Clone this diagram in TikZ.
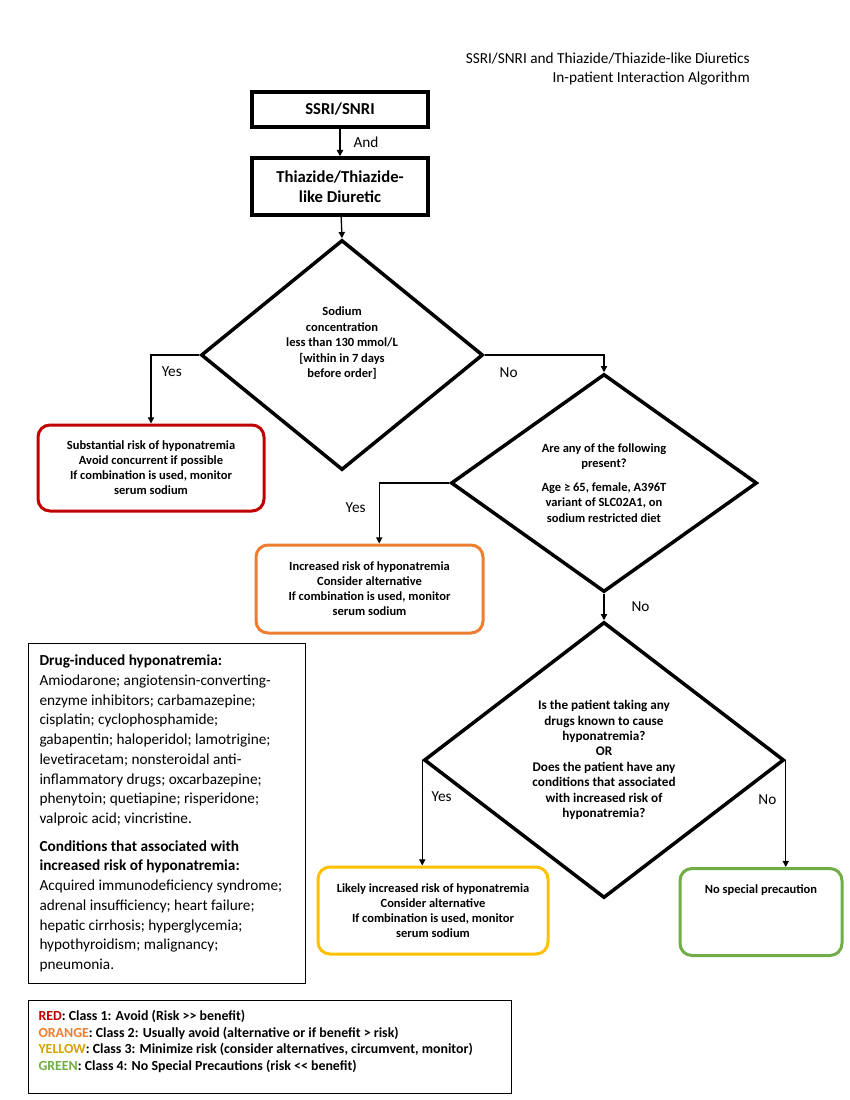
\documentclass[tikz,border=0pt]{standalone}
\usepackage{fontspec}
\setmainfont{Carlito}
\usetikzlibrary{shapes.geometric,arrows.meta}
\newlength{\px}\setlength{\px}{0.72pt}
\definecolor{riskred}{RGB}{192,0,0}
\definecolor{riskorange}{RGB}{237,125,49}
\definecolor{riskyellow}{RGB}{255,192,0}
\definecolor{legendyellow}{RGB}{214,162,0}
\definecolor{riskgreen}{RGB}{112,173,71}
\begin{document}
\begin{tikzpicture}[
        x=0.72pt, y=-0.72pt,
        drugbox/.style={draw, line width=3.5\px, minimum width=176\px, inner sep=0pt, align=center,
            font=\bfseries\fontsize{12}{14.4}\selectfont},
        question/.style={draw, diamond, line width=3.5\px, inner sep=0pt, align=center,
            font=\bfseries\fontsize{9}{11.2}\selectfont},
        outcome/.style={draw, rounded corners=12\px, line width=3\px, inner sep=0pt, align=center,
            font=\bfseries\fontsize{9}{10.8}\selectfont},
        arrow/.style={-{Triangle[length=4.5pt,width=4.5pt]}, line width=0.95pt},
        answer/.style={font=\fontsize{11}{13}\selectfont}
    ]
        \useasboundingbox (0,0) rectangle (850,1100);

        % Title
        \node[anchor=east, align=right, inner sep=0pt, font=\fontsize{11}{13}\selectfont] (title) at (750,69)
            {SSRI/SNRI and Thiazide/Thiazide-like Diuretics\\In-patient Interaction Algorithm};

        % Drugs in combination
        \node[drugbox, minimum height=35\px] (ssri) at (340,109.5) {SSRI/SNRI};
        \node[drugbox, minimum height=57\px] (thia) at (340,186.5) {Thiazide/Thiazide-\\like Diuretic};

        % Decisions
        \node[question, minimum width=282\px, minimum height=230\px] (sodium) at (342,355)
            {\fontsize{9}{12}\selectfont Sodium\\concentration\\less than 130 mmol/L\\{[}within in 7 days\\before order{]}\\[10\px]};
        \node[question, minimum width=306\px, minimum height=218\px] (risk) at (604,483)
            {Are any of the following\\present?\\[8\px]Age ≥ 65, female, A396T\\variant of SLC02A1, on\\sodium restricted diet};
        \node[question, minimum width=360\px, minimum height=276\px, font=\bfseries\fontsize{9.5}{11.1}\selectfont] (drugs) at (604,760)
            {Is the patient taking any\\drugs known to cause\\hyponatremia?\\OR\\Does the patient have any\\conditions that associated\\with increased risk of\\hyponatremia?};

        % Outcomes
        \node[outcome, draw=riskred, minimum width=226\px, minimum height=86\px] (red) at (151,468)
            {Substantial risk of hyponatremia\\Avoid concurrent if possible\\If combination is used, monitor\\serum sodium};
        \node[outcome, draw=riskorange, minimum width=227\px, minimum height=88\px] (orange) at (369.5,589)
            {Increased risk of hyponatremia\\Consider alternative\\If combination is used, monitor\\serum sodium};
        \node[outcome, draw=riskyellow, minimum width=230\px, minimum height=87\px] (yellow) at (433,910.5)
            {Likely increased risk of hyponatremia\\Consider alternative\\If combination is used, monitor\\serum sodium};
        \node[outcome, draw=riskgreen, anchor=north, minimum width=162\px,
            text height=25\px, text depth=62\px] (green) at (761,867) {No special precaution};

        % Connectors
        \draw[arrow] (ssri) -- node[answer, right=6pt] {And} (thia);
        \draw[arrow] (thia) -- (sodium.north);
        \draw[arrow] (sodium.west) -| node[answer, pos=0.62, right=4pt] {Yes} (red.north);
        \draw[arrow] (sodium.east) -| node[answer, pos=0.1, below=5pt] {No} (risk.north);
        \draw[arrow] (risk.west) -| node[answer, pos=0.7, left=6pt] {Yes} ([xshift=7pt]orange.north);
        \draw[arrow] (risk.south) -- node[answer, right=16pt] {No} (drugs.north);
        \draw[arrow] (drugs.west) -- node[answer, pos=0.35, right=3pt] {Yes} (drugs.west |- yellow.north);
        \draw[arrow] (drugs.east) -- node[answer, pos=0.37, left=3pt] {No} (drugs.east |- green.north);

        % Lists of drugs and conditions
        \node[draw, line width=1\px, anchor=north west, minimum width=277\px, minimum height=340\px,
            inner xsep=11\px, text width=255\px, align=flush left, font=\fontsize{11}{14.2}\selectfont] (lists) at (28,643)
            {\textbf{Drug-induced hyponatremia:}\\
            Amiodarone; angiotensin-converting-\\
            enzyme inhibitors; carbamazepine;\\
            cisplatin; cyclophosphamide;\\
            gabapentin; haloperidol; lamotrigine;\\
            levetiracetam; nonsteroidal anti-\\
            inflammatory drugs; oxcarbazepine;\\
            phenytoin; quetiapine; risperidone;\\
            valproic acid; vincristine.\\[8\px]
            \textbf{Conditions that associated with}\\
            \textbf{increased risk of hyponatremia:}\\
            Acquired immunodeficiency syndrome;\\
            adrenal insufficiency; heart failure;\\
            hepatic cirrhosis; hyperglycemia;\\
            hypothyroidism; malignancy;\\
            pneumonia.};

        % Legend
        \node[draw, line width=1\px, anchor=north west, minimum width=483\px, minimum height=93\px,
            inner xsep=10\px, text width=463\px, align=flush left, font=\bfseries\fontsize{10}{12}\selectfont] (legend) at (28,1000)
            {\textcolor{riskred}{RED}: Class 1: Avoid (Risk >\kern0pt> benefit)\\
            \textcolor{riskorange}{ORANGE}: Class 2: Usually avoid (alternative or if benefit > risk)\\
            \textcolor{legendyellow}{YELLOW}: Class 3: Minimize risk (consider alternatives, circumvent, monitor)\\
            \textcolor{riskgreen}{GREEN}: Class 4: No Special Precautions (risk <\kern0pt< benefit)\\[-3\px]
            \mbox{}};
    \end{tikzpicture}
\end{document}
